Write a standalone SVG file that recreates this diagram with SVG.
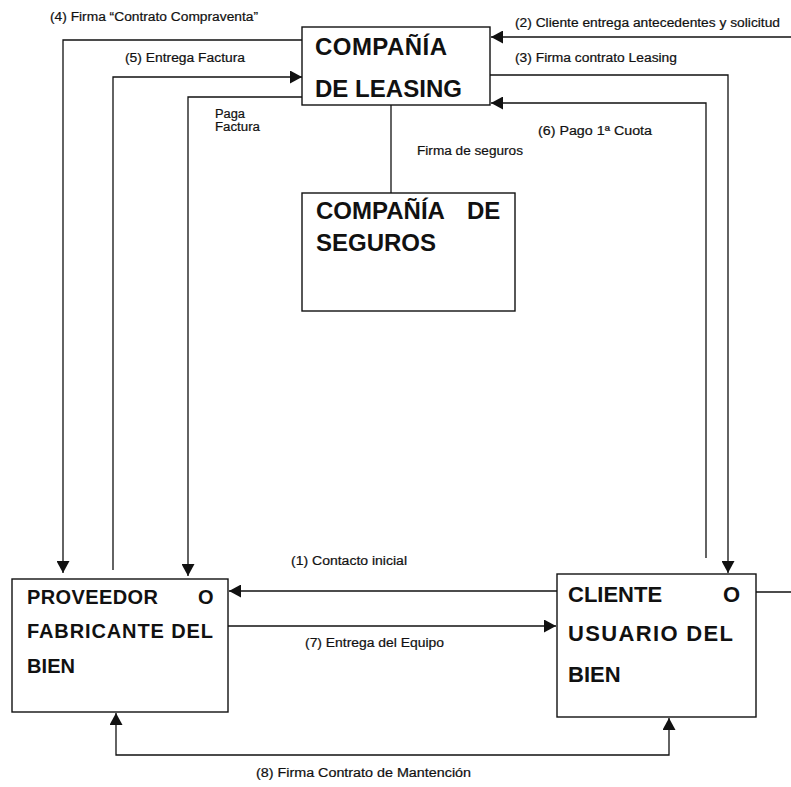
<svg xmlns="http://www.w3.org/2000/svg" width="791" height="787" viewBox="0 0 791 787">
<style>
.box{fill:#fff;stroke:#111;stroke-width:1.4}
.big{font-family:"Liberation Sans",Arial,sans-serif;font-weight:bold;fill:#111}
.lbl{font-family:"Liberation Sans",Arial,sans-serif;font-size:12px;fill:#111;stroke:#111;stroke-width:0.2}
.con{fill:none;stroke:#111;stroke-width:1.3}
</style>
<defs>
<marker id="ah" markerUnits="userSpaceOnUse" markerWidth="13" markerHeight="13" refX="12" refY="6.5" orient="auto-start-reverse">
<path d="M0,0 L12,6.5 L0,13 z" fill="#111"/>
</marker>
</defs>
<rect width="791" height="787" fill="#fff"/>
<g id="connectors">
<path class="con" d="M302,40 H63 V573" marker-end="url(#ah)"/>
<path class="con" d="M113,570 V77 H302" marker-end="url(#ah)"/>
<path class="con" d="M302,97 H188 V576" marker-end="url(#ah)"/>
<path class="con" d="M791,37 H491" marker-end="url(#ah)"/>
<path class="con" d="M490,75 H728 V573" marker-end="url(#ah)"/>
<path class="con" d="M706,558 V103 H491" marker-end="url(#ah)"/>
<path class="con" d="M391,105 V193"/>
<path class="con" d="M557,591 H229" marker-end="url(#ah)"/>
<path class="con" d="M228,626 H556" marker-end="url(#ah)"/>
<path class="con" d="M116,713 V755 H669 V718" marker-start="url(#ah)" marker-end="url(#ah)"/>
<path class="con" d="M756,592 H791"/>
<text class="lbl" x="50" y="21" textLength="208" lengthAdjust="spacingAndGlyphs">(4) Firma “Contrato Compraventa”</text>
<text class="lbl" x="125" y="62" textLength="120" lengthAdjust="spacingAndGlyphs">(5) Entrega Factura</text>
<text class="lbl" x="215" y="118" textLength="30" lengthAdjust="spacingAndGlyphs">Paga</text>
<text class="lbl" x="215" y="131" textLength="45" lengthAdjust="spacingAndGlyphs">Factura</text>
<text class="lbl" x="515" y="27" textLength="265" lengthAdjust="spacingAndGlyphs">(2) Cliente entrega antecedentes y solicitud</text>
<text class="lbl" x="515" y="62" textLength="162" lengthAdjust="spacingAndGlyphs">(3) Firma contrato Leasing</text>
<text class="lbl" x="538" y="135" textLength="114" lengthAdjust="spacingAndGlyphs">(6) Pago 1ª Cuota</text>
<text class="lbl" x="417" y="155" textLength="106" lengthAdjust="spacingAndGlyphs">Firma de seguros</text>
<text class="lbl" x="291" y="565" textLength="116" lengthAdjust="spacingAndGlyphs">(1) Contacto inicial</text>
<text class="lbl" x="305" y="647" textLength="139" lengthAdjust="spacingAndGlyphs">(7) Entrega del Equipo</text>
<text class="lbl" x="256" y="777" textLength="215" lengthAdjust="spacingAndGlyphs">(8) Firma Contrato de Mantención</text>
</g>
<g id="leasing">
<rect class="box" x="302" y="27" width="188" height="78"/>
<text class="big" font-size="24"><tspan x="315" y="55" textLength="132">COMPAÑÍA</tspan><tspan x="315" y="97" textLength="147">DE LEASING</tspan></text>
</g>
<g id="seguros">
<rect class="box" x="302" y="193" width="213" height="118"/>
<text class="big" font-size="24"><tspan x="316" y="219">COMPAÑÍA</tspan><tspan x="467" y="219">DE</tspan><tspan x="316" y="251">SEGUROS</tspan></text>
</g>
<g id="proveedor">
<rect class="box" x="12" y="579" width="216" height="133"/>
<text class="big" font-size="20"><tspan x="27" y="604" textLength="131">PROVEEDOR</tspan><tspan x="198" y="604">O</tspan><tspan x="27" y="638" textLength="186">FABRICANTE DEL</tspan><tspan x="27" y="673" textLength="48">BIEN</tspan></text>
</g>
<g id="cliente">
<rect class="box" x="557" y="574" width="199" height="143"/>
<text class="big" font-size="22"><tspan x="568" y="602">CLIENTE</tspan><tspan x="723" y="602">O</tspan><tspan x="568" y="641" textLength="165">USUARIO DEL</tspan><tspan x="568" y="682">BIEN</tspan></text>
</g>
</svg>
